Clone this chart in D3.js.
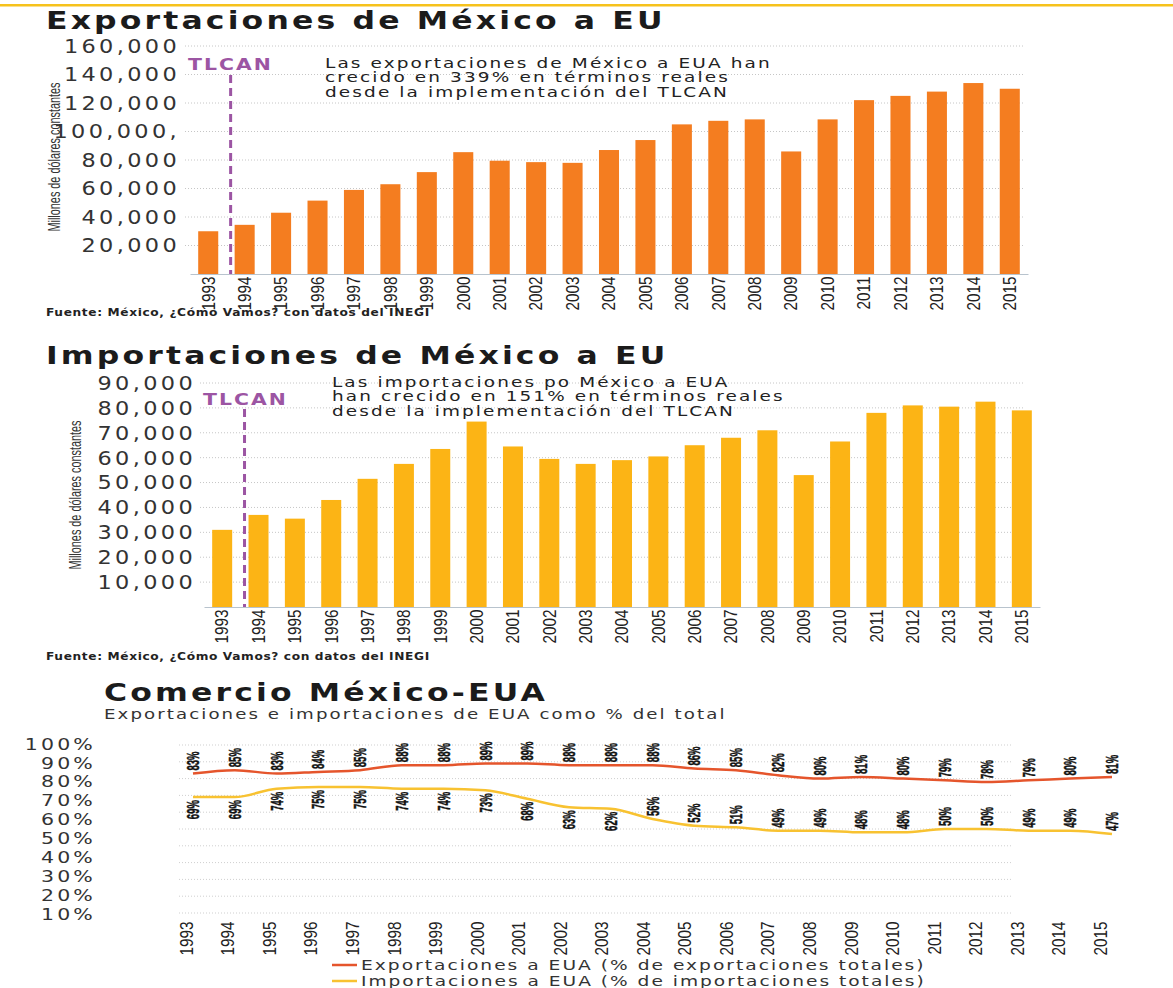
<!DOCTYPE html>
<html lang="es">
<head>
<meta charset="utf-8">
<title>Comercio México-EUA</title>
<script src="https://cdn.jsdelivr.net/npm/d3@7"></script>
<style>
  html, body { margin: 0; padding: 0; background: #fff; }
  svg { display: block; }
</style>
</head>
<body>
<svg id="chart" width="1173" height="988"></svg>
<script>
const years = ['1993', '1994', '1995', '1996', '1997', '1998', '1999', '2000', '2001', '2002', '2003', '2004',
  '2005', '2006', '2007', '2008', '2009', '2010', '2011', '2012', '2013', '2014', '2015'];

// millones de dólares constantes
const exportValues = [30000, 34500, 43000, 51500, 59000, 63000, 71500, 85500, 79500, 78500, 78000, 87000,
  94000, 105000, 107500, 108500, 86000, 108500, 122000, 125000, 128000, 134000, 130000];
const exportTicks = [20000, 40000, 60000, 80000, 100000, 120000, 140000, 160000];
const exportTickLabels = ['20,000', '40,000', '60,000', '80,000', '100,000,', '120,000', '140,000', '160,000'];

const importValues = [31000, 37000, 35500, 43000, 51500, 57500, 63500, 74500, 64500, 59500, 57500, 59000,
  60500, 65000, 68000, 71000, 53000, 66500, 78000, 81000, 80500, 82500, 79000];
const importTicks = [10000, 20000, 30000, 40000, 50000, 60000, 70000, 80000, 90000];
const importTickLabels = ['10,000', '20,000', '30,000', '40,000', '50,000', '60,000', '70,000', '80,000', '90,000'];

// % del total
const exportShare = [83, 85, 83, 84, 85, 88, 88, 89, 89, 88, 88, 88, 86, 85, 82, 80, 81, 80, 79, 78, 79, 80, 81];
const importShare = [69, 69, 74, 75, 75, 74, 74, 73, 68, 63, 62, 56, 52, 51, 49, 49, 48, 48, 50, 50, 49, 49, 47];
const shareTicks = [10, 20, 30, 40, 50, 60, 70, 80, 90, 100];
const shareGrid = [0, 10, 20, 30, 40, 50, 60, 70, 80, 90, 100];

const wide = '"DejaVu Sans", Verdana, sans-serif';
const narrow = '"Liberation Sans", Arial, sans-serif';
const purple = '#9c55a3';
const source = 'Fuente: México, ¿Cómo Vamos? con datos del INEGI';

const svg = d3.select('#chart');

// the original face is wide and tracked: stretch a text horizontally (around its x) to a given width
function widen(sel, width, node, factor) {
  const el = node || sel.node();
  const f = factor || width / el.getComputedTextLength();
  const x0 = +sel.attr('x');
  sel.attr('transform', `translate(${x0},0) scale(${f},1) translate(${-x0},0)`);
  return f;
}

svg.append('rect').attr('x', 0).attr('y', 4).attr('width', 1173).attr('height', 2.5).attr('fill', '#f6c21c');

let titleStretch = null;

function addTitle(g, x, y, str) {
  const t = g.append('text')
    .attr('x', x).attr('y', y)
    .style('font-family', wide).style('font-weight', 'bold').style('font-size', '25px')
    .style('letter-spacing', '2.5px').style('fill', '#1b1b1b')
    .text(str);
  titleStretch = widen(t, 620, null, titleStretch);
}

function drawBarChart(o) {
  const g = svg.append('g');
  const x = d3.scaleBand().domain(years).range(o.xRange).paddingInner(0.45).paddingOuter(0.225);
  const y = d3.scaleLinear().domain([0, d3.max(o.ticks)]).range(o.yRange);

  addTitle(g, 46, o.titleY, o.title);

  g.append('g').selectAll('line')
    .data(o.ticks)
    .join('line')
    .attr('x1', o.gridX[0]).attr('x2', o.gridX[1])
    .attr('y1', d => y(d)).attr('y2', d => y(d))
    .attr('stroke', '#c6c6c6').attr('stroke-dasharray', '1 2');

  const yAxis = g.append('g')
    .attr('transform', `translate(${o.labelX + 3},0)`)
    .call(d3.axisLeft(y).tickValues(o.ticks).tickFormat((d, i) => o.tickLabels[i]).tickSize(0).tickPadding(0));
  yAxis.select('.domain').remove();
  yAxis.selectAll('text')
    .style('font-family', wide).style('font-size', '20px').style('letter-spacing', '3px').style('fill', '#333')
    .attr('transform', 'scale(1.12,1)');

  g.append('text')
    .attr('transform', `translate(${o.axisTitle[0] + 5},${o.axisTitle[1]}) rotate(-90)`)
    .attr('text-anchor', 'middle')
    .attr('textLength', 149).attr('lengthAdjust', 'spacingAndGlyphs')
    .style('font-family', narrow).style('font-size', '16px').style('fill', '#333')
    .text('Millones de dólares constantes');

  g.append('g').selectAll('rect')
    .data(o.values)
    .join('rect')
    .attr('x', (d, i) => x(years[i]))
    .attr('width', x.bandwidth())
    .attr('y', d => y(d))
    .attr('height', d => y(0) - y(d))
    .attr('fill', o.color);

  const xAxis = g.append('g')
    .attr('transform', `translate(0,${y(0)})`)
    .call(d3.axisBottom(x).tickSize(0).tickPadding(0));
  xAxis.select('.domain').attr('stroke', '#b8c3cd');
  xAxis.selectAll('text')
    .attr('y', null).attr('x', -3).attr('dy', '0.35em')
    .attr('text-anchor', 'end')
    .attr('transform', 'rotate(-90) scale(0.85,1)')
    .style('font-family', narrow).style('font-size', '18px').style('fill', '#222');

  // TLCAN marker, just before the 1994 bar
  const tx = x('1994') - 4;
  g.append('line')
    .attr('x1', tx).attr('x2', tx)
    .attr('y1', o.tlcanTop).attr('y2', y(0))
    .attr('stroke', purple).attr('stroke-width', 3).attr('stroke-dasharray', '8 5');
  const tl = g.append('text')
    .attr('x', o.tlcanLabel[0]).attr('y', o.tlcanLabel[1])
    .style('font-family', wide).style('font-weight', 'bold').style('font-size', '15px')
    .style('letter-spacing', '1.5px').style('fill', purple)
    .text('TLCAN');
  widen(tl, 85);

  const note = g.append('text')
    .attr('x', o.note[0]).attr('y', o.note[1])
    .style('font-family', wide).style('font-size', '14px').style('letter-spacing', '1.6px').style('fill', '#222');
  note.selectAll('tspan')
    .data(o.noteLines)
    .join('tspan')
    .attr('x', o.note[0])
    .attr('dy', (d, i) => i === 0 ? 0 : 14.3)
    .text(d => d);
  widen(note, o.noteWidth, note.selectAll('tspan').nodes()[o.noteFit]);

  const src = g.append('text')
    .attr('x', 46).attr('y', o.sourceY)
    .style('font-family', wide).style('font-weight', 'bold').style('font-size', '10px')
    .style('letter-spacing', '0.5px').style('fill', '#222')
    .text(source);
  widen(src, 384);
}

drawBarChart({
  title: 'Exportaciones de México a EU',
  titleY: 29,
  values: exportValues,
  ticks: exportTicks,
  tickLabels: exportTickLabels,
  color: '#f47d20',
  xRange: [190, 1028],
  yRange: [274, 46],
  gridX: [185, 1025],
  labelX: 177,
  axisTitle: [55, 157],
  tlcanTop: 75,
  tlcanLabel: [188, 70],
  note: [325, 68],
  noteLines: ['Las exportaciones de México a EUA han', 'crecido en 339% en términos reales', 'desde la implementación del TLCAN'],
  noteFit: 0,
  noteWidth: 447,
  sourceY: 316
});

drawBarChart({
  title: 'Importaciones de México a EU',
  titleY: 364,
  values: importValues,
  ticks: importTicks,
  tickLabels: importTickLabels,
  color: '#fcb415',
  xRange: [204, 1040],
  yRange: [607, 383],
  gridX: [200, 1025],
  labelX: 193,
  axisTitle: [76, 495],
  tlcanTop: 409,
  tlcanLabel: [203, 405],
  note: [332, 387],
  noteLines: ['Las importaciones po México a EUA', 'han crecido en 151% en términos reales', 'desde la implementación del TLCAN'],
  noteFit: 1,
  noteWidth: 453,
  sourceY: 660
});

function drawShareChart() {
  const g = svg.append('g');
  const x = d3.scalePoint().domain(years).range([193, 1112]);
  const xLabels = d3.scalePoint().domain(years).range([186, 1100]);
  const y = d3.scaleLinear().domain([0, 100]).range([913, 745]);
  const yLabels = d3.scaleLinear().domain([10, 100]).range([914, 744]);

  addTitle(g, 104, 701, 'Comercio México-EUA');
  const sub = g.append('text')
    .attr('x', 104).attr('y', 719)
    .style('font-family', wide).style('font-size', '14px').style('letter-spacing', '1.6px').style('fill', '#333')
    .text('Exportaciones e importaciones de EUA como % del total');
  widen(sub, 623);

  g.append('g').selectAll('line')
    .data(shareGrid)
    .join('line')
    .attr('x1', 179).attr('x2', 1013)
    .attr('y1', d => y(d)).attr('y2', d => y(d))
    .attr('stroke', '#cfcfcf').attr('stroke-dasharray', '1 2');

  const yAxis = g.append('g')
    .attr('transform', 'translate(96,0)')
    .call(d3.axisLeft(yLabels).tickValues(shareTicks).tickFormat(d => d + '%').tickSize(0).tickPadding(0));
  yAxis.select('.domain').remove();
  yAxis.selectAll('text')
    .style('font-family', wide).style('font-size', '16px').style('letter-spacing', '2.5px').style('fill', '#333')
    .attr('transform', 'scale(1.28,1)');

  const xAxis = g.append('g')
    .attr('transform', 'translate(0,919)')
    .call(d3.axisBottom(xLabels).tickSize(0).tickPadding(0));
  xAxis.select('.domain').remove();
  xAxis.selectAll('text')
    .attr('y', null).attr('x', -3).attr('dy', '0.35em')
    .attr('text-anchor', 'end')
    .attr('transform', 'rotate(-90) scale(0.85,1)')
    .style('font-family', narrow).style('font-size', '18px').style('fill', '#222');

  const series = [
    { values: exportShare, color: '#e5552c', above: () => true },
    { values: importShare, color: '#f8c231', above: v => v < 60 }
  ];

  const line = d3.line()
    .x((d, i) => x(years[i]))
    .y(d => y(d))
    .curve(d3.curveMonotoneX);

  series.forEach(s => {
    g.append('path')
      .datum(s.values)
      .attr('d', line)
      .attr('fill', 'none')
      .attr('stroke', s.color)
      .attr('stroke-width', 2.5);

    g.append('g').selectAll('text')
      .data(s.values)
      .join('text')
      .attr('transform', (d, i) => {
        const ly = s.above(d) ? y(d) - 3 : y(d) + 3;
        return `translate(${x(years[i])},${ly}) rotate(-90) scale(0.56,1)`;
      })
      .attr('dy', '0.36em')
      .attr('text-anchor', d => s.above(d) ? 'start' : 'end')
      .style('font-family', narrow).style('font-weight', 'bold').style('font-size', '17px')
      .style('fill', '#111').style('stroke', '#111').style('stroke-width', '0.5px')
      .text(d => d + '%');
  });

  const legend = g.append('g').selectAll('g')
    .data([
      { label: 'Exportaciones a EUA (% de exportaciones totales)', color: '#e5552c' },
      { label: 'Importaciones a EUA (% de importaciones totales)', color: '#f8c231' }
    ])
    .join('g')
    .attr('transform', (d, i) => `translate(332,${965 + i * 16})`);
  legend.append('line')
    .attr('x1', 0).attr('x2', 25)
    .attr('stroke', d => d.color).attr('stroke-width', 2.5);
  legend.append('text')
    .attr('x', 29).attr('dy', '0.35em')
    .style('font-family', wide).style('font-size', '14px').style('letter-spacing', '1.5px').style('fill', '#333')
    .text(d => d.label)
    .each(function () { widen(d3.select(this), 565); });
}

drawShareChart();
</script>
</body>
</html>
